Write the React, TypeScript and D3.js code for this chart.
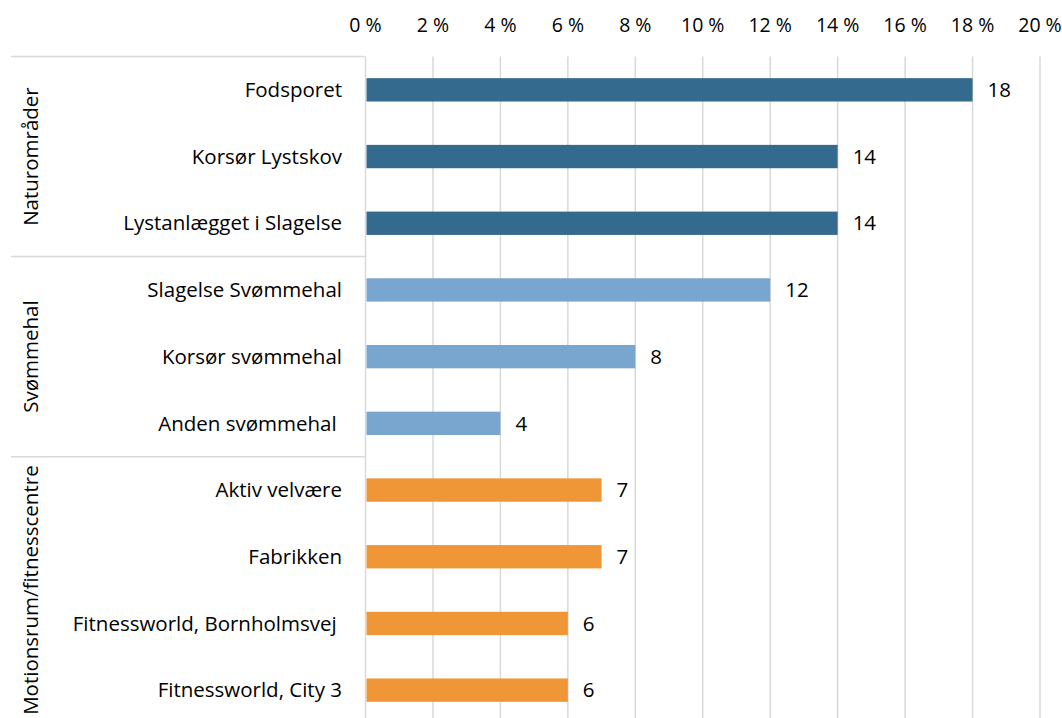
import React from "react";
import * as d3 from "d3";

const categories = [
  "Fodsporet",
  "Korsør Lystskov",
  "Lystanlægget i Slagelse",
  "Slagelse Svømmehal",
  "Korsør svømmehal",
  "Anden svømmehal ",
  "Aktiv velvære",
  "Fabrikken",
  "Fitnessworld, Bornholmsvej ",
  "Fitnessworld, City 3",
];
const values = [18, 14, 14, 12, 8, 4, 7, 7, 6, 6];
const groupOf = [0, 0, 0, 1, 1, 1, 2, 2, 2, 2];
const groups = ["Naturområder", "Svømmehal", "Motionsrum/fitnesscentre"];
const groupColors = ["#356a8f", "#79a6cf", "#ef9637"];
const ticks = [0, 2, 4, 6, 8, 10, 12, 14, 16, 18, 20];

const W = 1062;
const H = 718;
const FONT = "'Open Sans', Lato, sans-serif";
const FS = 20.5;
const FS_TICK = 19.5;

export default function App() {
  const x = d3.scaleLinear().domain([0, 20]).range([365.5, 1040]);
  const y = d3
    .scaleBand<number>()
    .domain(d3.range(categories.length))
    .range([56.5, 723.5])
    .paddingInner(0.65)
    .paddingOuter(0.325);
  const step = y.step();
  const rowTop = (i: number) => 56.5 + i * step;

  const groupRanges = groups.map((g, gi) => {
    const idx = groupOf.map((v, i) => (v === gi ? i : -1)).filter((i) => i >= 0);
    return { name: g, start: rowTop(idx[0]), end: rowTop(idx[idx.length - 1] + 1) };
  });

  return (
    <svg
      width={W}
      height={H}
      style={{ position: "absolute", left: 0, top: 0, background: "#fff" }}
      fontFamily={FONT}
    >
      {ticks.map((t) => (
        <line
          key={"g" + t}
          x1={x(t)}
          x2={x(t)}
          y1={56.5}
          y2={H}
          stroke="#d9d9d9"
          strokeWidth={1.5}
        />
      ))}
      {ticks.map((t) => (
        <text
          key={"t" + t}
          x={x(t)}
          y={32}
          textAnchor="middle"
          fontSize={FS_TICK}
          fill="#000"
        >
          {t + " %"}
        </text>
      ))}
      {groupRanges.map((g, i) => (
        <line
          key={"s" + i}
          x1={11}
          x2={365.5}
          y1={g.start}
          y2={g.start}
          stroke="#d9d9d9"
          strokeWidth={1.5}
        />
      ))}
      {groupRanges.map((g, i) => (
        <text
          key={"gl" + i}
          transform={`translate(38, ${(g.start + g.end) / 2}) rotate(-90)`}
          textAnchor="middle"
          fontSize={FS}
          fill="#000"
        >
          {g.name}
        </text>
      ))}
      {values.map((v, i) => (
        <rect
          key={"b" + i}
          x={x(0) + 1}
          y={y(i)}
          width={x(v) - x(0) - 1}
          height={y.bandwidth()}
          fill={groupColors[groupOf[i]]}
        />
      ))}
      {categories.map((c, i) => (
        <text
          key={"c" + i}
          x={342}
          y={(y(i) as number) + y.bandwidth() / 2}
          dy="0.35em"
          textAnchor="end"
          fontSize={FS}
          fill="#000"
          style={{ whiteSpace: "pre" }}
        >
          {c}
        </text>
      ))}
      {values.map((v, i) => (
        <text
          key={"v" + i}
          x={x(v) + 15}
          y={(y(i) as number) + y.bandwidth() / 2}
          dy="0.35em"
          fontSize={FS}
          fill="#000"
        >
          {v}
        </text>
      ))}
    </svg>
  );
}
